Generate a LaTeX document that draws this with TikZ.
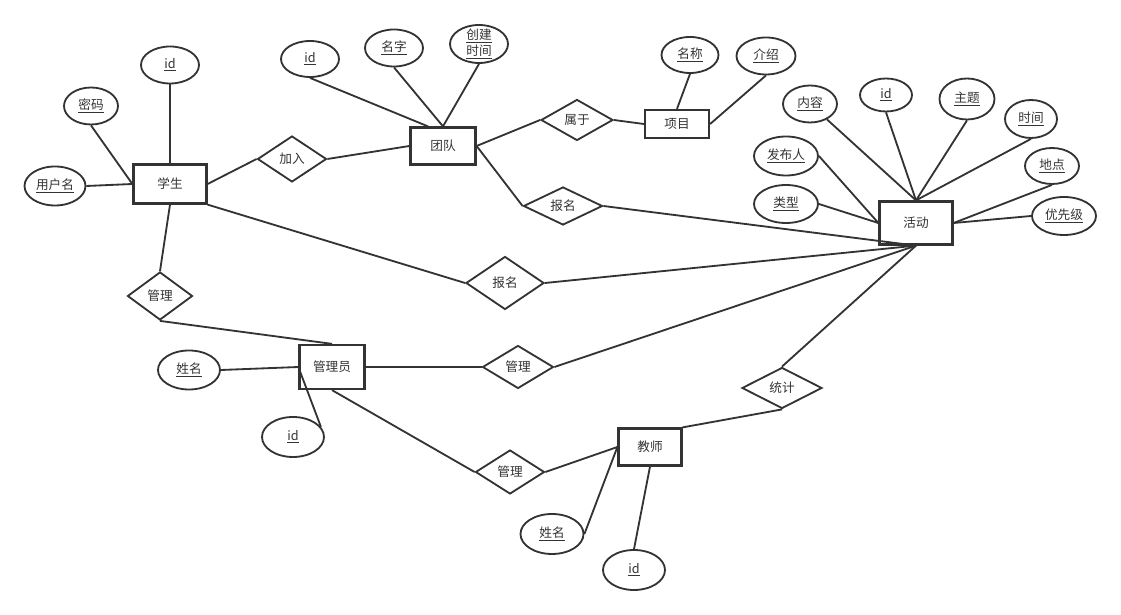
\documentclass[tikz,border=0pt]{standalone}
\usepackage{fontspec}
\newfontfamily\cjk{Noto Sans CJK SC}
\usetikzlibrary{shapes.geometric,calc}
\definecolor{ink}{HTML}{333333}

\begin{document}
\begin{tikzpicture}[x=0.025cm,y=-0.025cm,
		every node/.style={font=\cjk\fontsize{9}{9.5}\selectfont,text=ink,align=center},
		entity/.style 2 args={draw=ink,line width=1.6pt,rectangle,inner sep=0,minimum width=#1*0.025cm,minimum height=#2*0.025cm},
		relation/.style 2 args={draw=ink,line width=1.3pt,diamond,shape aspect=2,inner sep=0,minimum width=#1*0.025cm,minimum height=#2*0.025cm},
		attrib/.style 2 args={draw=ink,line width=1.3pt,ellipse,inner sep=0,minimum width=#1*0.025cm,minimum height=#2*0.025cm},
		link/.style={draw=ink,line width=1.3pt}]
		\useasboundingbox (0,0) rectangle (1121,615);
		% entities
		\node[entity={73}{39}] (e_stu) at (170,184) {学生};
		\node[entity={65}{37}] (e_team) at (443,146) {团队};
		\node[entity={64}{28}] (e_proj) at (677,124) {项目};
		\node[entity={73}{43}] (e_act) at (916,223) {活动};
		\node[entity={65}{44}] (e_admin) at (332,367) {管理员};
		\node[entity={63}{37}] (e_teach) at (650,447) {教师};
		% relations
		\node[relation={69}{46}] (r_join) at (292,159) {加入};
		\node[relation={72}{41}] (r_belong) at (577,120) {属于};
		\node[relation={79}{38}] (r_sign_team) at (563,206) {报名};
		\node[relation={78}{53}] (r_sign_stu) at (505,283) {报名};
		\node[relation={65}{48}] (r_man_stu) at (160,296) {管理};
		\node[relation={71}{43}] (r_man_act) at (518,367) {管理};
		\node[relation={80}{41}] (r_stat) at (782,388) {统计};
		\node[relation={69}{44}] (r_man_teach) at (510,472) {管理};
		% attributes
		\node[attrib={58}{37}] (a_stu_id) at (170,65) {\underline{id}};
		\node[attrib={54}{37}] (a_stu_pwd) at (91,106) {\underline{密码}};
		\node[attrib={61}{39}] (a_stu_user) at (55,186) {\underline{用户名}};
		\node[attrib={58}{36}] (a_team_id) at (310,59) {\underline{id}};
		\node[attrib={58}{37}] (a_team_name) at (394,48) {\underline{名字}};
		\node[attrib={58}{38},inner sep=-3pt] (a_team_time) at (479,44) {\underline{创建}\\\underline{时间}};
		\node[attrib={57}{36}] (a_proj_name) at (690,55) {\underline{名称}};
		\node[attrib={59}{37}] (a_proj_intro) at (766,56) {\underline{介绍}};
		\node[attrib={54}{37}] (a_act_text) at (810,104) {\underline{内容}};
		\node[attrib={52}{33}] (a_act_id) at (886,95) {\underline{id}};
		\node[attrib={55}{41}] (a_act_topic) at (967,99) {\underline{主题}};
		\node[attrib={52}{38}] (a_act_time) at (1031,119) {\underline{时间}};
		\node[attrib={54}{36}] (a_act_place) at (1052,166) {\underline{地点}};
		\node[attrib={64}{38}] (a_act_prio) at (1064,216) {\underline{优先级}};
		\node[attrib={64}{39}] (a_act_pub) at (786,156) {\underline{发布人}};
		\node[attrib={64}{38}] (a_act_type) at (786,204) {\underline{类型}};
		\node[attrib={62}{39}] (a_admin_name) at (189,370) {\underline{姓名}};
		\node[attrib={62}{40}] (a_admin_id) at (293,437) {\underline{id}};
		\node[attrib={63}{40}] (a_teach_name) at (552,534) {\underline{姓名}};
		\node[attrib={62}{40}] (a_teach_id) at (634,570) {\underline{id}};
		% connectors
		\path[link]
			(a_stu_id.south) edge (e_stu.north)
			(a_stu_pwd.south) edge (e_stu.west)
			(a_stu_user.east) edge (e_stu.west)
			(e_stu.east) edge (r_join.west)
			(r_join.east) edge (e_team.west)
			(a_team_id.south) edge ($(e_team.north)+(-15,0)$)
			(a_team_name.south) edge (e_team.north)
			(a_team_time.south) edge (e_team.north)
			(e_team.east) edge (r_belong.west)
			(r_belong.east) edge (e_proj.west)
			(e_proj.north) edge (a_proj_name.south)
			(e_proj.east) edge (a_proj_intro.south)
			(e_team.east) edge (r_sign_team.west)
			(r_sign_team.east) edge (e_act.south)
			(e_stu.south east) edge (r_sign_stu.west)
			(r_sign_stu.east) edge (e_act.south)
			(a_act_text) edge (e_act.north)
			(a_act_id.south) edge (e_act.north)
			(a_act_topic.south) edge (e_act.north)
			(a_act_time.south) edge (e_act.north)
			(a_act_pub.east) edge (e_act.west)
			(a_act_type.east) edge (e_act.west)
			(a_act_place.south) edge (e_act.east)
			(a_act_prio.west) edge (e_act.east)
			(e_stu.south) edge (r_man_stu.north)
			(r_man_stu.south) edge (e_admin.north)
			(a_admin_name.east) edge (e_admin.west)
			(a_admin_id.20) edge (e_admin.west)
			(e_admin.east) edge (r_man_act.west)
			(r_man_act.east) edge (e_act.south)
			(e_admin.south) edge (r_man_teach.west)
			(r_man_teach.east) edge (e_teach.west)
			(a_teach_name.east) edge (e_teach.west)
			(e_teach.south) edge (a_teach_id.north)
			(r_stat.north) edge (e_act.south)
			(r_stat.south) edge (e_teach.north east);
	\end{tikzpicture}
\end{document}
